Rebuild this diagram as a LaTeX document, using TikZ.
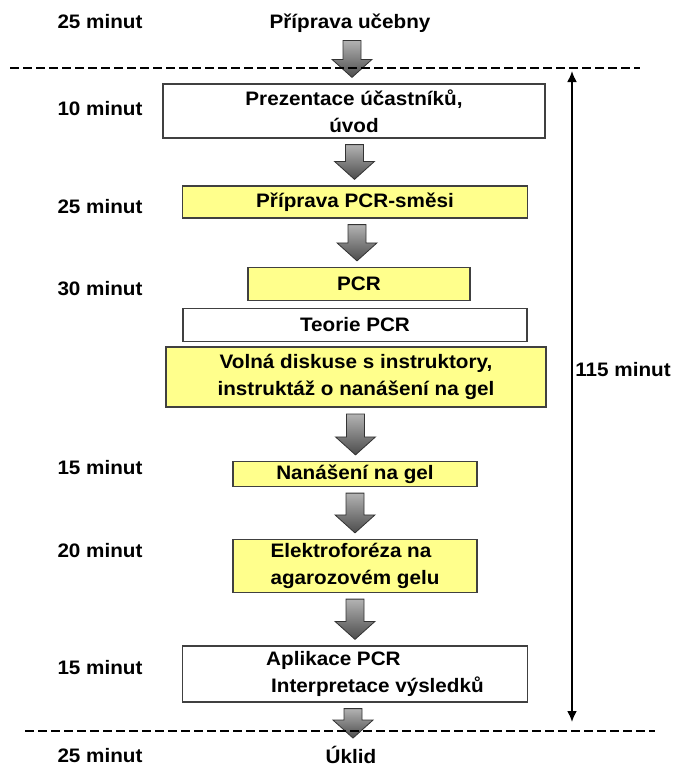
\documentclass[tikz,border=0pt]{standalone}
\usepackage{fontspec}
\setmainfont[FakeStretch=1.06]{Liberation Sans}
\usetikzlibrary{calc}
\usetikzlibrary{arrows.meta}
\definecolor{boxyellow}{RGB}{255,255,140}

% grey block arrow from one node down to the next
\newcommand{\flowarrow}[2]{%
  \path[flow] let \p1=($(#1.south)+(0,6)$), \p2=($(#2.north)-(0,6)$), \n1={(\x1+\x2)/2} in
    (\n1-9pt,\y1) -- (\n1+9pt,\y1) -- (\n1+9pt,\y2+18pt) -- (\n1+20pt,\y2+18pt)
    -- (\n1,\y2) -- (\n1-20pt,\y2+18pt) -- (\n1-9pt,\y2+18pt) -- cycle;}

\begin{document}
\begin{tikzpicture}[x=1pt,y=-1pt, font=\fontsize{19.5}{27}\selectfont\bfseries,
    box/.style={draw=black!75, line width=1.2pt, fill=white, inner sep=0pt, align=center},
    ybox/.style={box, fill=boxyellow},
    flow/.style={top color=black!30, bottom color=black!70, draw=black!80, line width=0.8pt},
    cut/.style={line width=2.5pt, dash pattern=on 9pt off 4pt},
    lbl/.style={inner sep=2pt}]
    \useasboundingbox (0,0) rectangle (673,769);

    % steps
    \node[lbl] (prep) at (350,23) {Příprava učebny};
    \node[box, minimum width=382, minimum height=54] (b1) at (354,111) {Prezentace účastníků,\\úvod};
    \node[ybox, minimum width=345, minimum height=32] (b2) at (355,202) {Příprava PCR-směsi};
    \node[ybox, minimum width=222, minimum height=33] (b3) at (359,284) {PCR};
    \node[box, minimum width=344, minimum height=33] (b4) at (355,325) {Teorie PCR};
    \node[ybox, line width=2pt, minimum width=380, minimum height=60] (b5) at (356,377) {Volná diskuse s instruktory,\\instruktáž o nanášení na gel};
    \node[ybox, minimum width=244, minimum height=25] (b6) at (355,474) {Nanášení na gel};
    \node[ybox, minimum width=244, minimum height=53, align=left] (b7) at (355,566) {Elektroforéza na\\agarozovém gelu};
    \node[box, minimum width=345, minimum height=56, align=left] (b8) at (355,674) {\hspace*{40pt}Aplikace PCR\\\hspace*{45pt}Interpretace výsledků};
    \node[lbl] (clean) at (351,755) {Úklid};

    \flowarrow{prep}{b1}
    \flowarrow{b1}{b2}
    \flowarrow{b2}{b3}
    \flowarrow{b5}{b6}
    \flowarrow{b6}{b7}
    \flowarrow{b7}{b8}
    \flowarrow{b8}{clean}

    % times
    \node[lbl] (t0) at (100,22) {25 minut};
    \node[lbl] (t1) at (100,109) {10 minut};
    \node[lbl] (t2) at (100,207) {25 minut};
    \node[lbl] (t3) at (100,289) {30 minut};
    \node[lbl] (t4) at (100,468) {15 minut};
    \node[lbl] (t5) at (100,551) {20 minut};
    \node[lbl] (t6) at (100,668) {15 minut};
    \node[lbl] (t7) at (100,756) {25 minut};

    % limits of the course
    \coordinate (cutL1) at (10,68);
    \coordinate (cutR1) at (640,68);
    \coordinate (cutL2) at (25,731);
    \coordinate (cutR2) at (655,731);
    \draw[cut] (cutL1) -- (cutR1);
    \draw[cut] (cutL2) -- (cutR2);

    \coordinate (spanT) at (572,71);
    \coordinate (spanB) at (572,722);
    \draw[line width=2pt, {Latex[length=11pt,width=10pt]}-{Latex[length=11pt,width=10pt]}] (spanT) -- (spanB);
    \node[lbl] (total) at (623,370) {115 minut};
\end{tikzpicture}
\end{document}
